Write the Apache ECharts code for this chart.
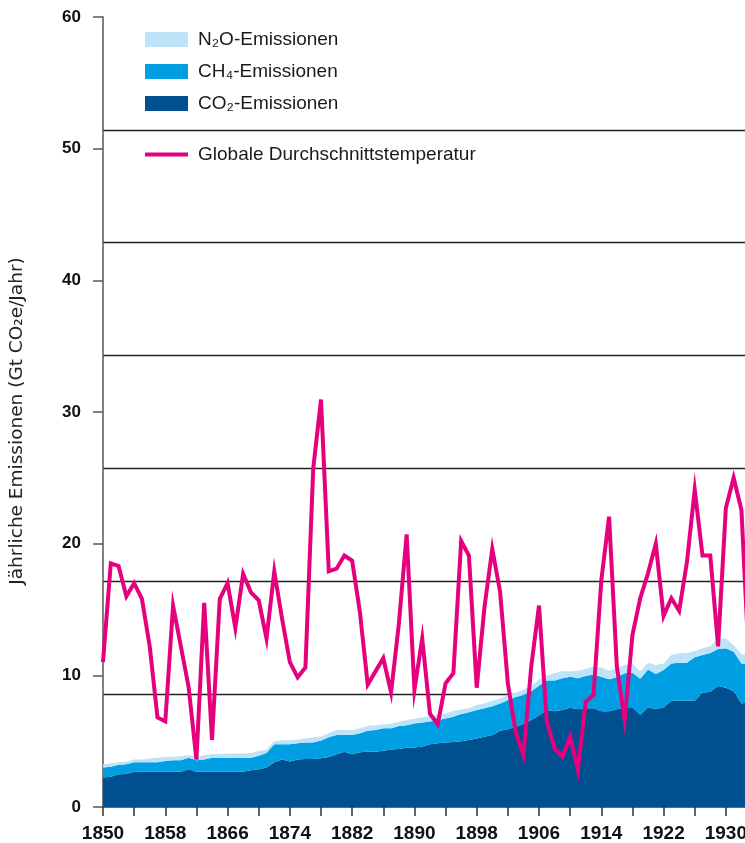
<!DOCTYPE html>
<html>
<head>
<meta charset="utf-8">
<script src="https://cdn.jsdelivr.net/npm/echarts@6/dist/echarts.min.js"></script>
<style>
html, body { margin: 0; padding: 0; overflow: hidden; background: #fff; }
#chart { width: 750px; height: 843px; }
</style>
</head>
<body>
<div id="chart"></div>
<script>
// Years 1850..1933 (chart is cropped at the right edge)
const years = [];
for (let y = 1850; y <= 1933; y++) years.push(String(y));

// Annual emissions, Gt CO2e/year
const co2 = [
  2.25, 2.3, 2.48, 2.5, 2.68, 2.68, 2.68, 2.68, 2.68, 2.68,
  2.68, 2.86, 2.68, 2.68, 2.68, 2.68, 2.68, 2.68, 2.68, 2.8,
  2.86, 3.0, 3.4, 3.6, 3.45, 3.6, 3.65, 3.65, 3.7, 3.8,
  4.0, 4.2, 4.0, 4.15, 4.2, 4.2, 4.27, 4.37, 4.4, 4.5,
  4.52, 4.6, 4.76, 4.84, 4.9, 4.94, 5.0, 5.08, 5.2, 5.34,
  5.47, 5.8, 5.9, 6.1, 6.3, 6.6, 6.95, 7.37, 7.27, 7.37,
  7.54, 7.43, 7.5, 7.5, 7.27, 7.27, 7.43, 7.57, 7.57, 7.0,
  7.57, 7.43, 7.57, 8.07, 8.07, 8.07, 8.07, 8.68, 8.75, 9.19,
  9.06, 8.8, 7.87, 8.0
];
const ch4 = [
  0.75, 0.75, 0.72, 0.75, 0.72, 0.72, 0.72, 0.72, 0.82, 0.87,
  0.87, 0.89, 0.87, 0.92, 1.07, 1.07, 1.07, 1.07, 1.07, 0.95,
  1.04, 1.1, 1.36, 1.16, 1.31, 1.24, 1.25, 1.25, 1.35, 1.5,
  1.47, 1.27, 1.47, 1.45, 1.6, 1.65, 1.71, 1.61, 1.75, 1.7,
  1.83, 1.82, 1.74, 1.76, 1.83, 1.91, 2.06, 2.12, 2.17, 2.16,
  2.18, 2.07, 2.2, 2.25, 2.2, 2.2, 2.25, 2.23, 2.33, 2.4,
  2.36, 2.34, 2.45, 2.57, 2.63, 2.43, 2.42, 2.58, 2.63, 2.75,
  2.88, 2.67, 2.83, 2.83, 2.88, 2.88, 3.3, 2.87, 2.95, 2.81,
  2.99, 3.0, 3.03, 2.9
];
const n2o = [
  0.24, 0.28, 0.2, 0.2, 0.2, 0.2, 0.28, 0.35, 0.3, 0.27,
  0.33, 0.18, 0.3, 0.33, 0.25, 0.29, 0.31, 0.31, 0.31, 0.35,
  0.35, 0.26, 0.24, 0.31, 0.31, 0.26, 0.3, 0.4, 0.3, 0.3,
  0.38, 0.38, 0.38, 0.38, 0.38, 0.35, 0.29, 0.37, 0.33, 0.4,
  0.35, 0.38, 0.4, 0.4, 0.37, 0.44, 0.34, 0.3, 0.38, 0.37,
  0.42, 0.38, 0.4, 0.35, 0.4, 0.4, 0.5, 0.4, 0.55, 0.56,
  0.4, 0.58, 0.53, 0.58, 0.7, 0.65, 0.7, 0.63, 0.7, 0.55,
  0.5, 0.68, 0.5, 0.64, 0.72, 0.75, 0.48, 0.5, 0.5, 0.76,
  0.75, 0.5, 0.7, 0.6
];
// Global mean temperature, drawn in the units of the left scale
const temperature = [
  11.0, 18.5, 18.3, 16.0, 17.0, 15.8, 12.2, 6.8, 6.5, 15.3,
  12.2, 9.1, 3.6, 15.5, 5.1, 15.8, 17.0, 13.6, 17.7, 16.3,
  15.7, 12.8, 17.9, 14.3, 11.0, 9.85, 10.6, 25.7, 30.95, 17.9,
  18.1, 19.1, 18.7, 14.8, 9.3, 10.3, 11.3, 8.7, 13.9, 20.7,
  8.9, 12.8, 7.06, 6.3, 9.4, 10.15, 20.2, 19.1, 9.06, 15.2,
  19.6, 16.35, 9.4, 5.7, 3.95, 10.65, 15.3, 6.5, 4.45, 3.8,
  5.35, 2.8, 8.0, 8.5, 17.2, 22.05, 10.65, 6.6, 13.06, 15.85,
  17.75, 20.0, 14.5, 15.85, 14.9, 18.6, 24.1, 19.1, 19.1, 12.2,
  22.7, 25.0, 22.55, 10.5
];

const names = {
  n2o: 'N\u2082O-Emissionen',
  ch4: 'CH\u2084-Emissionen',
  co2: 'CO\u2082-Emissionen',
  temp: 'Globale Durchschnittstemperatur'
};
const yTicks = { min: 0, max: 60, interval: 10 };

const chart = echarts.init(document.getElementById('chart'), null, { renderer: 'canvas' });
const font = '"Liberation Sans", Arial, sans-serif';

function areaSeries(name, data, color) {
  return {
    name: name, type: 'line', stack: 'em', data: data,
    yAxisIndex: 0, symbol: 'none', showSymbol: false,
    lineStyle: { width: 0, color: color },
    itemStyle: { color: color },
    areaStyle: { color: color, opacity: 1 },
    emphasis: { disabled: true }, silent: true, z: 2
  };
}

chart.setOption({
  animation: false,
  textStyle: { fontFamily: font },
  grid: { left: 103, top: 17, right: 0, bottom: 36, containLabel: false },
  legend: [
    {
      data: [names.n2o, names.ch4, names.co2],
      orient: 'vertical', left: 145, top: 30, padding: 0,
      itemWidth: 43, itemHeight: 15, itemGap: 13,
      icon: 'rect', selectedMode: false,
      textStyle: { fontFamily: font, fontSize: 19, color: '#1a1a1a', padding: [0, 0, 0, 5] }
    },
    {
      data: [names.temp],
      orient: 'vertical', left: 145, top: 145, padding: 0,
      itemWidth: 43, itemHeight: 4,
      icon: 'rect', selectedMode: false,
      textStyle: { fontFamily: font, fontSize: 19, color: '#1a1a1a', padding: [0, 0, 0, 5] }
    }
  ],
  xAxis: {
    type: 'category', data: years, boundaryGap: false,
    axisLine: { lineStyle: { color: '#333', width: 1.5 } },
    axisTick: { interval: 3, length: 9, lineStyle: { color: '#333', width: 1.5 } },
    axisLabel: { interval: 7, margin: 17, fontFamily: font, fontSize: 19, fontWeight: 'bold', color: '#111' },
    splitLine: { show: false }
  },
  yAxis: [
    {
      type: 'value', min: yTicks.min, max: yTicks.max, interval: yTicks.interval,
      name: 'Jährliche Emissionen (Gt CO\u2082e/Jahr)',
      nameLocation: 'middle', nameGap: 76,
      nameTextStyle: { fontFamily: '"DejaVu Sans", sans-serif', fontSize: 18.5, color: '#222', padding: [0, 18, 0, 0] },
      axisLine: { show: true, lineStyle: { color: '#555', width: 1.5 } },
      axisTick: { show: true, length: 10, lineStyle: { color: '#555', width: 1.5 } },
      axisLabel: { margin: 22, fontFamily: font, fontSize: 17, fontWeight: 'bold', color: '#111' },
      splitLine: { show: false }
    },
    {
      type: 'value', min: 0, max: 7, interval: 1, position: 'right',
      axisLine: { show: false }, axisTick: { show: false }, axisLabel: { show: false },
      splitLine: { show: true, showMinLine: false, showMaxLine: false, lineStyle: { color: '#222', width: 1.3 } }
    }
  ],
  series: [
    areaSeries(names.co2, co2, '#00508F'),
    areaSeries(names.ch4, ch4, '#009FE3'),
    areaSeries(names.n2o, n2o, '#BDE3F8'),
    {
      name: names.temp, type: 'line', data: temperature, yAxisIndex: 0,
      symbol: 'none', showSymbol: false, z: 5,
      lineStyle: { color: '#E5007E', width: 4, join: 'miter' },
      itemStyle: { color: '#E5007E' },
      emphasis: { disabled: true }, silent: true
    }
  ]
});
</script>
</body>
</html>
